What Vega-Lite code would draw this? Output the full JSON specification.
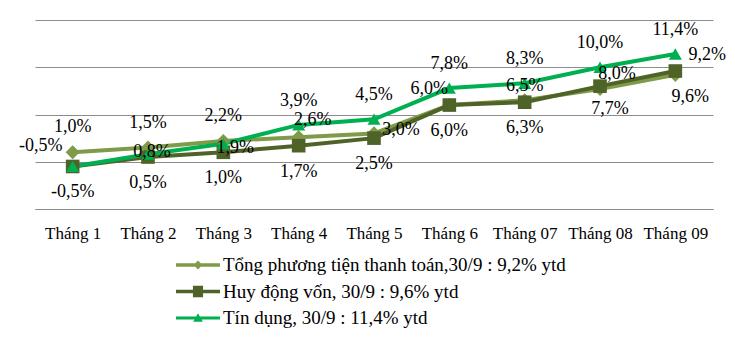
{
  "$schema": "https://vega.github.io/schema/vega-lite/v6.json",
  "width": 678,
  "height": 189,
  "autosize": {"type": "none"},
  "padding": {"left": 35, "top": 20, "right": 22, "bottom": 129},
  "background": "white",
  "config": {
    "locale": {"number": {"decimal": ",", "thousands": ".", "grouping": [3], "currency": ["", "đ"], "minus": "-"}},
    "font": "Liberation Serif",
    "view": {"stroke": null},
    "mark": {"font": "Liberation Serif"},
    "text": {"font": "Liberation Serif", "fontSize": 18, "color": "#000000", "baseline": "middle"}
  },
  "data": {
    "values": [
      {"key": "T", "series": "Tổng phương tiện thanh toán,30/9 : 9,2% ytd", "month": "Tháng 1", "value": 0.010},
      {"key": "T", "series": "Tổng phương tiện thanh toán,30/9 : 9,2% ytd", "month": "Tháng 2", "value": 0.015},
      {"key": "T", "series": "Tổng phương tiện thanh toán,30/9 : 9,2% ytd", "month": "Tháng 3", "value": 0.022},
      {"key": "T", "series": "Tổng phương tiện thanh toán,30/9 : 9,2% ytd", "month": "Tháng 4", "value": 0.026},
      {"key": "T", "series": "Tổng phương tiện thanh toán,30/9 : 9,2% ytd", "month": "Tháng 5", "value": 0.030},
      {"key": "T", "series": "Tổng phương tiện thanh toán,30/9 : 9,2% ytd", "month": "Tháng 6", "value": 0.060},
      {"key": "T", "series": "Tổng phương tiện thanh toán,30/9 : 9,2% ytd", "month": "Tháng 07", "value": 0.065},
      {"key": "T", "series": "Tổng phương tiện thanh toán,30/9 : 9,2% ytd", "month": "Tháng 08", "value": 0.077},
      {"key": "T", "series": "Tổng phương tiện thanh toán,30/9 : 9,2% ytd", "month": "Tháng 09", "value": 0.092},
      {"key": "H", "series": "Huy động vốn, 30/9 : 9,6% ytd", "month": "Tháng 1", "value": -0.005},
      {"key": "H", "series": "Huy động vốn, 30/9 : 9,6% ytd", "month": "Tháng 2", "value": 0.005},
      {"key": "H", "series": "Huy động vốn, 30/9 : 9,6% ytd", "month": "Tháng 3", "value": 0.010},
      {"key": "H", "series": "Huy động vốn, 30/9 : 9,6% ytd", "month": "Tháng 4", "value": 0.017},
      {"key": "H", "series": "Huy động vốn, 30/9 : 9,6% ytd", "month": "Tháng 5", "value": 0.025},
      {"key": "H", "series": "Huy động vốn, 30/9 : 9,6% ytd", "month": "Tháng 6", "value": 0.060},
      {"key": "H", "series": "Huy động vốn, 30/9 : 9,6% ytd", "month": "Tháng 07", "value": 0.063},
      {"key": "H", "series": "Huy động vốn, 30/9 : 9,6% ytd", "month": "Tháng 08", "value": 0.080},
      {"key": "H", "series": "Huy động vốn, 30/9 : 9,6% ytd", "month": "Tháng 09", "value": 0.096},
      {"key": "C", "series": "Tín dụng, 30/9 : 11,4% ytd", "month": "Tháng 1", "value": -0.005},
      {"key": "C", "series": "Tín dụng, 30/9 : 11,4% ytd", "month": "Tháng 2", "value": 0.008},
      {"key": "C", "series": "Tín dụng, 30/9 : 11,4% ytd", "month": "Tháng 3", "value": 0.019},
      {"key": "C", "series": "Tín dụng, 30/9 : 11,4% ytd", "month": "Tháng 4", "value": 0.039},
      {"key": "C", "series": "Tín dụng, 30/9 : 11,4% ytd", "month": "Tháng 5", "value": 0.045},
      {"key": "C", "series": "Tín dụng, 30/9 : 11,4% ytd", "month": "Tháng 6", "value": 0.078},
      {"key": "C", "series": "Tín dụng, 30/9 : 11,4% ytd", "month": "Tháng 07", "value": 0.083},
      {"key": "C", "series": "Tín dụng, 30/9 : 11,4% ytd", "month": "Tháng 08", "value": 0.100},
      {"key": "C", "series": "Tín dụng, 30/9 : 11,4% ytd", "month": "Tháng 09", "value": 0.114}
    ]
  },
  "encoding": {
    "x": {
      "field": "month", "type": "ordinal", "sort": null,
      "scale": {"type": "point", "padding": 0.5},
      "axis": {
        "title": null, "labelAngle": 0, "ticks": false, "domain": true,
        "domainColor": "#8c8c8c", "domainWidth": 1,
        "labelFont": "Liberation Serif", "labelFontSize": 17, "labelColor": "#000000",
        "labelPadding": 24, "labelBaseline": "middle"
      }
    },
    "y": {
      "field": "value", "type": "quantitative",
      "scale": {"domain": [-0.05, 0.15], "nice": false, "zero": false},
      "axis": {
        "title": null, "labels": false, "ticks": false, "domain": false,
        "values": [-0.05, 0, 0.05, 0.1, 0.15],
        "grid": true, "gridColor": "#8c8c8c", "gridWidth": 1
      }
    }
  },
  "layer": [
    {
      "mark": {"type": "line", "strokeWidth": 4},
      "encoding": {
        "color": {
          "field": "series", "type": "nominal", "sort": null,
          "scale": {
            "domain": ["Tổng phương tiện thanh toán,30/9 : 9,2% ytd", "Huy động vốn, 30/9 : 9,6% ytd", "Tín dụng, 30/9 : 11,4% ytd"],
            "range": ["#7f9a48", "#4f6228", "#00b050"]
          },
          "legend": {
            "title": null, "orient": "none", "legendX": 141, "legendY": 234,
            "direction": "vertical",
            "labelFont": "Liberation Serif", "labelFontSize": 19, "labelColor": "#000000",
            "labelOffset": 3, "rowPadding": 4.5, "clipHeight": 22, "symbolSize": 1936, "symbolStrokeWidth": 0,
            "labelLimit": 500,
            "encode": {
              "symbols": {
                "update": {
                  "shape": {"signal": "datum.value === 'Tín dụng, 30/9 : 11,4% ytd' ? 'M-1,-0.07H1V0.07H-1Z M0,-0.22L0.22,0.17H-0.22Z' : (datum.value === 'Huy động vốn, 30/9 : 9,6% ytd' ? 'M-1,-0.08H1V0.08H-1Z M-0.23,-0.26H0.23V0.26H-0.23Z' : 'M-1,-0.08H1V0.08H-1Z M0,-0.2L0.2,0L0,0.2L-0.2,0Z')"},
                  "fill": {"scale": "color", "field": "value"},
                  "strokeWidth": {"value": 0},
                  "opacity": {"value": 1}
                }
              }
            }
          }
        },
        "strokeWidth": {
          "field": "key", "type": "nominal",
          "scale": {"domain": ["T", "H", "C"], "range": [5, 3.5, 3]},
          "legend": null
        }
      }
    },
    {
      "mark": {"type": "point", "filled": true, "opacity": 1},
      "encoding": {
        "color": {"field": "series", "type": "nominal", "sort": null},
        "shape": {
          "field": "key", "type": "nominal",
          "scale": {"domain": ["T", "H", "C"], "range": ["diamond", "square", "triangle-up"]},
          "legend": null
        },
        "size": {
          "field": "key", "type": "nominal",
          "scale": {"domain": ["T", "H", "C"], "range": [200, 170, 150]},
          "legend": null
        }
      }
    },
    {
      "transform": [{"filter": {"and": [{"field": "key", "equal": "T"}, {"field": "month", "oneOf": ["Tháng 1", "Tháng 2", "Tháng 3"]}]}}],
      "mark": {"type": "text", "dy": -25},
      "encoding": {"text": {"field": "value", "type": "quantitative", "format": ".1%"}}
    },
    {
      "transform": [{"filter": {"and": [{"field": "key", "equal": "T"}, {"field": "month", "equal": "Tháng 4"}]}}],
      "mark": {"type": "text", "dx": 14, "dy": -17},
      "encoding": {"text": {"field": "value", "type": "quantitative", "format": ".1%"}}
    },
    {
      "transform": [{"filter": {"and": [{"field": "key", "equal": "T"}, {"field": "month", "equal": "Tháng 5"}]}}],
      "mark": {"type": "text", "dx": 27, "dy": -3},
      "encoding": {"text": {"field": "value", "type": "quantitative", "format": ".1%"}}
    },
    {
      "transform": [{"filter": {"and": [{"field": "key", "equal": "T"}, {"field": "month", "equal": "Tháng 6"}]}}],
      "mark": {"type": "text", "dx": -20, "dy": -16},
      "encoding": {"text": {"field": "value", "type": "quantitative", "format": ".1%"}}
    },
    {
      "transform": [{"filter": {"and": [{"field": "key", "equal": "T"}, {"field": "month", "equal": "Tháng 07"}]}}],
      "mark": {"type": "text", "dx": 0, "dy": -14},
      "encoding": {"text": {"field": "value", "type": "quantitative", "format": ".1%"}}
    },
    {
      "transform": [{"filter": {"and": [{"field": "key", "equal": "T"}, {"field": "month", "equal": "Tháng 08"}]}}],
      "mark": {"type": "text", "dx": 10, "dy": 20},
      "encoding": {"text": {"field": "value", "type": "quantitative", "format": ".1%"}}
    },
    {
      "transform": [{"filter": {"and": [{"field": "key", "equal": "T"}, {"field": "month", "equal": "Tháng 09"}]}}],
      "mark": {"type": "text", "dx": 32, "dy": -20},
      "encoding": {"text": {"field": "value", "type": "quantitative", "format": ".1%"}}
    },
    {
      "transform": [{"filter": {"and": [{"field": "key", "equal": "H"}, {"field": "month", "oneOf": ["Tháng 1", "Tháng 2", "Tháng 3", "Tháng 4", "Tháng 5", "Tháng 6", "Tháng 07"]}]}}],
      "mark": {"type": "text", "dy": 26},
      "encoding": {"text": {"field": "value", "type": "quantitative", "format": ".1%"}}
    },
    {
      "transform": [{"filter": {"and": [{"field": "key", "equal": "H"}, {"field": "month", "equal": "Tháng 08"}]}}],
      "mark": {"type": "text", "dx": 17, "dy": -12},
      "encoding": {"text": {"field": "value", "type": "quantitative", "format": ".1%"}}
    },
    {
      "transform": [{"filter": {"and": [{"field": "key", "equal": "H"}, {"field": "month", "equal": "Tháng 09"}]}}],
      "mark": {"type": "text", "dx": 15, "dy": 26},
      "encoding": {"text": {"field": "value", "type": "quantitative", "format": ".1%"}}
    },
    {
      "transform": [{"filter": {"and": [{"field": "key", "equal": "C"}, {"field": "month", "equal": "Tháng 1"}]}}],
      "mark": {"type": "text", "dx": -32, "dy": -20},
      "encoding": {"text": {"field": "value", "type": "quantitative", "format": ".1%"}}
    },
    {
      "transform": [{"filter": {"and": [{"field": "key", "equal": "C"}, {"field": "month", "equal": "Tháng 2"}]}}],
      "mark": {"type": "text", "dx": 4, "dy": -2},
      "encoding": {"text": {"field": "value", "type": "quantitative", "format": ".1%"}}
    },
    {
      "transform": [{"filter": {"and": [{"field": "key", "equal": "C"}, {"field": "month", "equal": "Tháng 3"}]}}],
      "mark": {"type": "text", "dx": 12, "dy": 4},
      "encoding": {"text": {"field": "value", "type": "quantitative", "format": ".1%"}}
    },
    {
      "transform": [{"filter": {"and": [{"field": "key", "equal": "C"}, {"field": "month", "oneOf": ["Tháng 4", "Tháng 5", "Tháng 6", "Tháng 07", "Tháng 08", "Tháng 09"]}]}}],
      "mark": {"type": "text", "dy": -24},
      "encoding": {"text": {"field": "value", "type": "quantitative", "format": ".1%"}}
    }
  ]
}
